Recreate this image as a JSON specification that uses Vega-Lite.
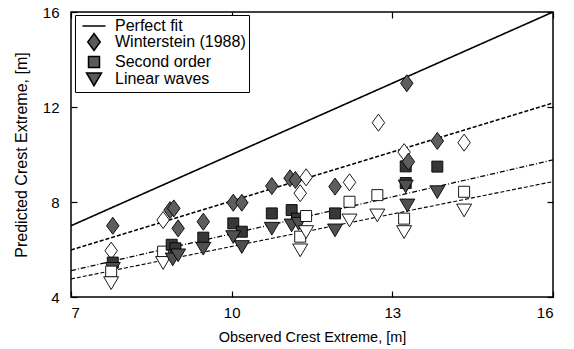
{
  "$schema": "https://vega.github.io/schema/vega-lite/v6.json",
  "width": 482,
  "height": 285,
  "autosize": {"type": "none"},
  "padding": {"left": 71, "top": 12, "right": 21, "bottom": 52},
  "background": "white",
  "config": {
    "view": {"stroke": "black", "strokeWidth": 1.5},
    "font": "Liberation Sans",
    "axis": {"grid": false, "domain": false, "tickColor": "black", "tickSize": -6, "tickWidth": 1.2, "labelColor": "black", "titleColor": "black", "labelFontSize": 15, "titleFontSize": 15, "titleFontWeight": "normal", "labelFont": "Liberation Sans", "titleFont": "Liberation Sans"}
  },
  "datasets": {
    "pts": [
      {"series": "Winterstein (1988)", "x": 7.78, "y": 7.0, "tone": "W"},
      {"series": "Winterstein (1988)", "x": 7.75, "y": 5.95, "tone": "open"},
      {"series": "Second order", "x": 7.78, "y": 5.45, "tone": "S"},
      {"series": "Linear waves", "x": 7.78, "y": 5.2, "tone": "L"},
      {"series": "Second order", "x": 7.75, "y": 5.07, "tone": "open"},
      {"series": "Linear waves", "x": 7.75, "y": 4.6, "tone": "open"},

      {"series": "Winterstein (1988)", "x": 8.72, "y": 7.24, "tone": "open"},
      {"series": "Winterstein (1988)", "x": 8.85, "y": 7.66, "tone": "W"},
      {"series": "Winterstein (1988)", "x": 8.92, "y": 7.73, "tone": "W"},
      {"series": "Winterstein (1988)", "x": 9.0, "y": 6.89, "tone": "W"},
      {"series": "Second order", "x": 8.72, "y": 5.91, "tone": "open"},
      {"series": "Linear waves", "x": 8.72, "y": 5.45, "tone": "open"},
      {"series": "Second order", "x": 8.88, "y": 6.2, "tone": "S"},
      {"series": "Second order", "x": 8.95, "y": 6.05, "tone": "S"},
      {"series": "Linear waves", "x": 8.9, "y": 5.6, "tone": "L"},
      {"series": "Linear waves", "x": 9.0, "y": 5.77, "tone": "L"},

      {"series": "Winterstein (1988)", "x": 9.47, "y": 7.17, "tone": "W"},
      {"series": "Second order", "x": 9.47, "y": 6.5, "tone": "S"},
      {"series": "Linear waves", "x": 9.47, "y": 6.05, "tone": "L"},

      {"series": "Winterstein (1988)", "x": 10.03, "y": 7.97, "tone": "W"},
      {"series": "Winterstein (1988)", "x": 10.19, "y": 7.97, "tone": "W"},
      {"series": "Second order", "x": 10.03, "y": 7.1, "tone": "S"},
      {"series": "Second order", "x": 10.19, "y": 6.75, "tone": "S"},
      {"series": "Linear waves", "x": 10.03, "y": 6.54, "tone": "L"},
      {"series": "Linear waves", "x": 10.19, "y": 6.12, "tone": "L"},

      {"series": "Winterstein (1988)", "x": 10.75, "y": 8.67, "tone": "W"},
      {"series": "Second order", "x": 10.75, "y": 7.52, "tone": "S"},
      {"series": "Linear waves", "x": 10.75, "y": 6.89, "tone": "L"},

      {"series": "Winterstein (1988)", "x": 11.09, "y": 9.0, "tone": "W"},
      {"series": "Winterstein (1988)", "x": 11.19, "y": 8.93, "tone": "W"},
      {"series": "Winterstein (1988)", "x": 11.39, "y": 9.04, "tone": "open"},
      {"series": "Winterstein (1988)", "x": 11.28, "y": 8.37, "tone": "open"},
      {"series": "Second order", "x": 11.12, "y": 7.66, "tone": "S"},
      {"series": "Second order", "x": 11.22, "y": 7.3, "tone": "S"},
      {"series": "Linear waves", "x": 11.12, "y": 7.03, "tone": "L"},
      {"series": "Linear waves", "x": 11.25, "y": 7.1, "tone": "L"},
      {"series": "Second order", "x": 11.39, "y": 7.41, "tone": "open"},
      {"series": "Second order", "x": 11.28, "y": 6.54, "tone": "open"},
      {"series": "Linear waves", "x": 11.39, "y": 6.75, "tone": "open"},
      {"series": "Linear waves", "x": 11.28, "y": 5.98, "tone": "open"},

      {"series": "Winterstein (1988)", "x": 11.93, "y": 8.65, "tone": "W"},
      {"series": "Second order", "x": 11.93, "y": 7.52, "tone": "S"},
      {"series": "Linear waves", "x": 11.93, "y": 6.82, "tone": "L"},

      {"series": "Winterstein (1988)", "x": 12.2, "y": 8.83, "tone": "open"},
      {"series": "Second order", "x": 12.2, "y": 8.01, "tone": "open"},
      {"series": "Linear waves", "x": 12.2, "y": 7.24, "tone": "open"},

      {"series": "Winterstein (1988)", "x": 12.74, "y": 11.34, "tone": "open"},
      {"series": "Second order", "x": 12.72, "y": 8.29, "tone": "open"},
      {"series": "Linear waves", "x": 12.72, "y": 7.45, "tone": "open"},

      {"series": "Winterstein (1988)", "x": 13.27, "y": 13.0, "tone": "W"},
      {"series": "Winterstein (1988)", "x": 13.22, "y": 10.1, "tone": "open"},
      {"series": "Second order", "x": 13.25, "y": 9.5, "tone": "S"},
      {"series": "Winterstein (1988)", "x": 13.3, "y": 9.7, "tone": "W"},
      {"series": "Second order", "x": 13.25, "y": 8.8, "tone": "S"},
      {"series": "Linear waves", "x": 13.25, "y": 8.67, "tone": "L"},
      {"series": "Linear waves", "x": 13.28, "y": 7.87, "tone": "L"},
      {"series": "Second order", "x": 13.22, "y": 7.3, "tone": "open"},
      {"series": "Linear waves", "x": 13.22, "y": 6.75, "tone": "open"},

      {"series": "Winterstein (1988)", "x": 13.84, "y": 10.57, "tone": "W"},
      {"series": "Second order", "x": 13.84, "y": 9.49, "tone": "S"},
      {"series": "Linear waves", "x": 13.84, "y": 8.43, "tone": "L"},

      {"series": "Winterstein (1988)", "x": 14.34, "y": 10.5, "tone": "open"},
      {"series": "Second order", "x": 14.34, "y": 8.43, "tone": "open"},
      {"series": "Linear waves", "x": 14.34, "y": 7.66, "tone": "open"}
    ],
    "lines": [
      {"line": "Perfect fit", "x": 7, "y": 7},
      {"line": "Perfect fit", "x": 16, "y": 16},
      {"line": "Winterstein fit", "x": 7, "y": 5.98},
      {"line": "Winterstein fit", "x": 16, "y": 12.17},
      {"line": "Second order fit", "x": 7, "y": 5.11},
      {"line": "Second order fit", "x": 16, "y": 9.77},
      {"line": "Linear fit", "x": 7, "y": 4.76},
      {"line": "Linear fit", "x": 16, "y": 8.86}
    ]
  },
  "layer": [
    {
      "data": {"name": "lines"},
      "mark": {"type": "line", "color": "black", "clip": true},
      "encoding": {
        "x": {"field": "x", "type": "quantitative", "scale": {"domain": [7, 16], "nice": false, "zero": false}, "axis": {"orient": "top", "values": [7, 10, 13, 16], "labels": false, "title": null}},
        "y": {"field": "y", "type": "quantitative", "scale": {"domain": [4, 16], "nice": false, "zero": false}, "axis": {"orient": "right", "values": [4, 8, 12, 16], "labels": false, "title": null}},
        "detail": {"field": "line"},
        "strokeDash": {"field": "line", "type": "nominal", "scale": {"domain": ["Perfect fit", "Winterstein fit", "Second order fit", "Linear fit"], "range": [[1, 0], [4, 2], [5, 2, 1, 2], [4, 2]]}, "legend": null},
        "strokeWidth": {"field": "line", "type": "nominal", "scale": {"domain": ["Perfect fit", "Winterstein fit", "Second order fit", "Linear fit"], "range": [1.6, 1.1, 1.0, 1.3]}, "legend": null}
      }
    },
    {
      "data": {"name": "pts"},
      "mark": {"type": "point", "filled": true, "color": "#5a5a5a", "stroke": "black", "strokeWidth": 0.9, "opacity": 1, "size": 100},
      "encoding": {
        "x": {"field": "x", "type": "quantitative", "scale": {"domain": [7, 16], "nice": false, "zero": false}, "axis": {"orient": "bottom", "values": [7, 10, 13, 16], "title": "Observed Crest Extreme, [m]", "titleFontSize": 14.5, "labelPadding": 14, "titlePadding": 10}},
        "y": {"field": "y", "type": "quantitative", "scale": {"domain": [4, 16], "nice": false, "zero": false}, "axis": {"orient": "left", "values": [4, 8, 12, 16], "title": "Predicted Crest Extreme, [m]", "titleFontSize": 16, "labelPadding": 18, "titlePadding": 13}},
        "shape": {"field": "series", "type": "nominal", "scale": {"domain": ["Perfect fit", "Winterstein (1988)", "Second order", "Linear waves"], "range": ["M-2.3,0H2.3", "M0,-1.7L1.25,0L0,1.7L-1.25,0Z", "M-1.1,-1.1H1.1V1.1H-1.1Z", "M-1.5,-1.2H1.5L0,1.35Z"]},
          "legend": {"title": null, "orient": "none", "legendX": 4, "legendY": 3, "strokeColor": "black", "fillColor": "white", "padding": 3, "labelFontSize": 16, "labelColor": "black", "labelFont": "Liberation Sans", "symbolSize": 100, "symbolOffset": 8, "rowPadding": -6, "labelOffset": 13, "symbolFillColor": "#5a5a5a",
            "encode": {"symbols": {"update": {"fill": {"value": "#5a5a5a"}, "stroke": {"value": "black"}, "strokeWidth": {"signal": "datum.value === 'Perfect fit' ? 1.5 : 0.9"}, "opacity": {"value": 1}, "size": {"value": 100}, "shape": {"scale": "shape", "field": "value"}}}}}},
        "fill": {"field": "tone", "type": "nominal", "scale": {"domain": ["W", "S", "L", "open"], "range": ["#5e5e5e", "#363838", "#505050", "white"]}, "legend": null}
      }
    }
  ],
  "resolve": {"axis": {"x": "independent", "y": "independent"}}
}
